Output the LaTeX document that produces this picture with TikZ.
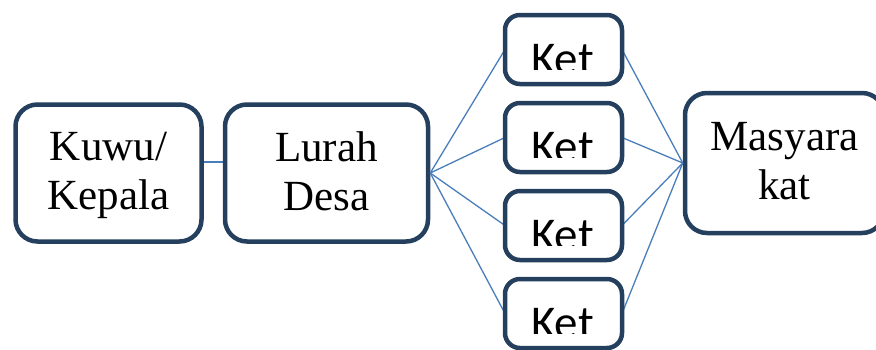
\documentclass[tikz,border=0pt]{standalone}
\usepackage{fontspec}
\setmainfont{Liberation Serif}
\newfontfamily\ketfont{Carlito}
\definecolor{boxline}{HTML}{24405E}
\definecolor{linkblue}{HTML}{4A7EBB}
\tikzset{
  orgbox/.style={draw=boxline, line width=4.5pt, rounded corners=22pt, fill=white,
    inner sep=0pt, align=center, text depth=4.5pt,
    font=\fontsize{43}{49}\selectfont},
  ketbox/.style={draw=boxline, line width=4.5pt, rounded corners=15pt, fill=white,
    inner sep=0pt, minimum width=117pt, minimum height=69pt},
  kettext/.style={inner sep=0pt, anchor=base, font=\ketfont\fontsize{47}{50}\selectfont},
  link/.style={draw=linkblue, line width=1.3pt}
}
\begin{document}
\begin{tikzpicture}[x=1pt,y=-1pt]
\useasboundingbox (0,0) rectangle (876,349);
\clip (0,0) rectangle (876,349);

% connectors first, boxes drawn over them
\coordinate (kuwuE) at (201.5,162);
\coordinate (lurahW) at (225,162);
\draw[link] (kuwuE) -- (lurahW);

\node[orgbox, minimum width=186pt, minimum height=137pt] (kuwu) at (108.5,173) {Kuwu/\\Kepala};
\node[orgbox, minimum width=203pt, minimum height=137pt] (lurah) at (326.5,173) {Lurah\\Desa};
% this box runs past the right edge of the sheet
\node[orgbox, minimum width=199pt, minimum height=140pt] (mas) at (784.5,163) {Masyara\\kat};

% the four "Ket" boxes; their labels run past the text frame and are cut off
\foreach \i/\y in {1/49.5, 2/137.5, 3/225.5, 4/313.5} {
  \draw[link] (lurah.east) -- (563.5-58.5,\y);
  \draw[link] (563.5+58.5,\y) -- (mas.west);
  \node[ketbox] (ket\i) at (563.5,\y) {};
  \begin{scope}
    \clip ([xshift=-2pt]ket\i.north west) rectangle ([yshift=-20.3pt]ket\i.east);
    \node[kettext] (kett\i) at ([xshift=-1pt,yshift=-25.3pt]ket\i.center) {Ket};
  \end{scope}
}
\end{tikzpicture}
\end{document}
